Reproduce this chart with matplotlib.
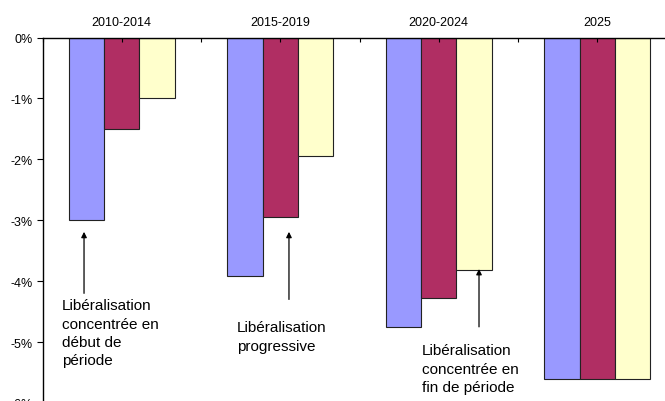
import matplotlib.pyplot as plt
import numpy as np

plt.rcParams['font.family'] = ['Liberation Sans', 'DejaVu Sans']

periods = ["2010-2014", "2015-2019", "2020-2024", "2025"]
debut = [-3.0, -3.91, -4.76, -5.6]
progressive = [-1.5, -2.94, -4.27, -5.6]
fin = [-1.0, -1.95, -3.81, -5.6]
ytick_vals = [0, -1, -2, -3, -4, -5, -6]
ytick_labels = ["0%", "-1%", "-2%", "-3%", "-4%", "-5%", "-6%"]

colors = ["#9999FF", "#B02E63", "#FFFFCC"]

fig = plt.figure(figsize=(6.65, 4.02), dpi=100)
W, H = 665, 402
ax = fig.add_axes([42.5 / W, (H - 404) / H, (676.5 - 42.5) / W, (404 - 38.5) / H])

x = np.arange(len(periods)) + 0.5
bw = 1 / 4.5
for i, (vals, c) in enumerate(zip([debut, progressive, fin], colors)):
    ax.bar(x + (i - 1) * bw, vals, width=bw, color=c, edgecolor="#222222", linewidth=0.8)

ax.set_xlim(0, 4)
ax.set_ylim(-6, 0)
ax.set_yticks(ytick_vals)
ax.set_yticklabels(ytick_labels, fontsize=9)
ax.tick_params(axis='y', direction='out', length=4, width=0.8, pad=3)

ax.xaxis.tick_top()
ax.set_xticks(x)
ax.set_xticklabels(periods, fontsize=9)
ax.set_xticks(np.arange(0, 5), minor=True)
ax.tick_params(axis='x', which='both', direction='in', length=3, width=0.8, pad=7)

ax.spines['right'].set_visible(False)
ax.spines['bottom'].set_visible(False)
ax.spines['top'].set_linewidth(1.0)
ax.spines['left'].set_linewidth(1.0)

arrow = dict(arrowstyle='-|>', color='black', lw=0.9, mutation_scale=8, shrinkA=0, shrinkB=0)

ax.annotate("", xy=(0.262, -3.19), xytext=(0.262, -4.2), arrowprops=arrow)
ax.text(0.123, -4.28, "Libéralisation\nconcentrée en\ndébut de\npériode",
        fontsize=11, va='top', ha='left', linespacing=1.4)

ax.annotate("", xy=(1.555, -3.19), xytext=(1.555, -4.30), arrowprops=arrow)
ax.text(1.227, -4.64, "Libéralisation\nprogressive",
        fontsize=11, va='top', ha='left', linespacing=1.4)

ax.annotate("", xy=(2.754, -3.80), xytext=(2.754, -4.75), arrowprops=arrow)
ax.text(2.394, -5.02, "Libéralisation\nconcentrée en\nfin de période",
        fontsize=11, va='top', ha='left', linespacing=1.4)

fig.savefig("out.png", dpi=100)
